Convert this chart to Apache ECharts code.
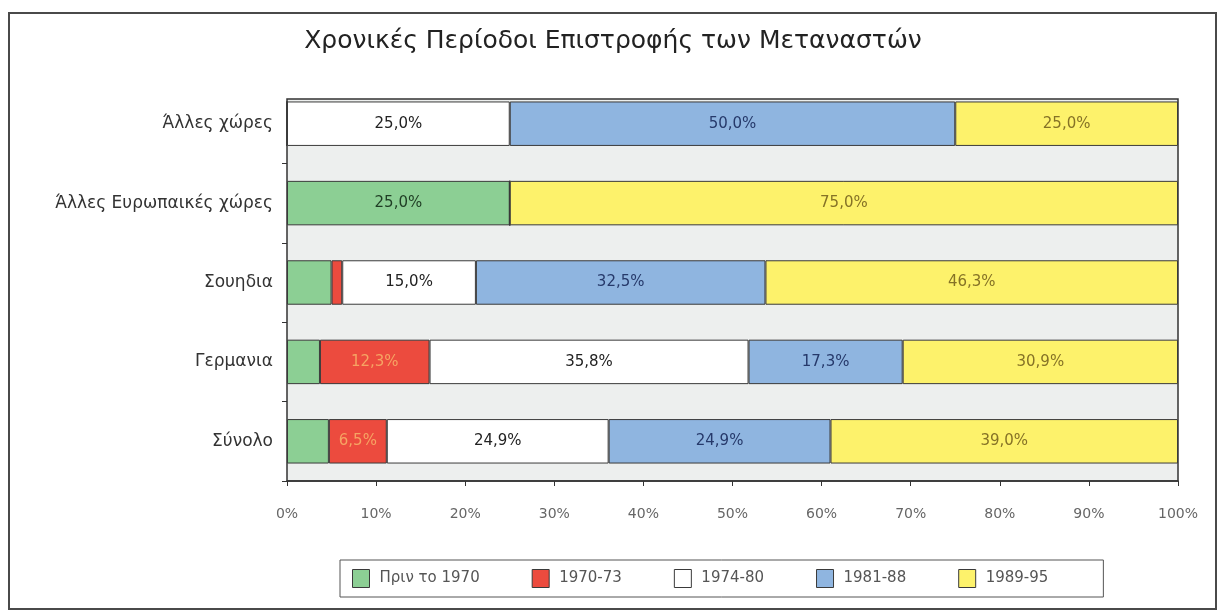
<!DOCTYPE html>
<html>
<head>
<meta charset="utf-8">
<script src="https://cdn.jsdelivr.net/npm/echarts@6/dist/echarts.min.js"></script>
<style>
  html, body { margin: 0; padding: 0; background: #fff; }
  #chart { width: 1226px; height: 612px; }
</style>
</head>
<body>
<div id="chart"></div>
<script>
// categories, top to bottom (yAxis is inverse)
var categories = ['Άλλες χώρες', 'Άλλες Ευρωπαικές χώρες', 'Σουηδια', 'Γερμανια', 'Σύνολο'];
var periods = ['Πριν το 1970', '1970-73', '1974-80', '1981-88', '1989-95'];

var before1970 = [0, 25.0, 5.0, 3.7, 4.7];
var p1970_73 = [0, 0, 1.2, 12.3, 6.5];
var p1974_80 = [25.0, 0, 15.0, 35.8, 24.9];
var p1981_88 = [50.0, 0, 32.5, 17.3, 24.9];
var p1989_95 = [25.0, 75.0, 46.3, 30.9, 39.0];

var xTicks = [0, 10, 20, 30, 40, 50, 60, 70, 80, 90, 100];

var fills = ['#8ccf94', '#ec4b3e', '#ffffff', '#8fb5e0', '#fdf26b'];
var labelColors = ['#1f3d24', '#f6a463', '#222222', '#26396a', '#857226'];

var font = 'DejaVu Sans';

function makeSeries(name, data, i) {
    return {
        name: name,
        type: 'bar',
        stack: 'total',
        barWidth: '56%',
        data: data,
        itemStyle: { color: fills[i], borderColor: '#3a3a3a', borderWidth: 1 },
        label: {
            show: true,
            position: 'inside',
            fontFamily: font,
            fontSize: 15,
            color: labelColors[i],
            formatter: function (p) {
                // small slices have no label in the original
                if (p.value < 6) return '';
                return p.value.toFixed(1).replace('.', ',') + '%';
            }
        },
        emphasis: { disabled: true }
    };
}

var allData = [before1970, p1970_73, p1974_80, p1981_88, p1989_95];
var series = [];
for (var i = 0; i < periods.length; i++) {
    series.push(makeSeries(periods[i], allData[i], i));
}

var myChart = echarts.init(document.getElementById('chart'));
myChart.setOption({
    backgroundColor: '#ffffff',
    animation: false,
    title: {
        text: 'Χρονικές Περίοδοι Επιστροφής των Μεταναστών',
        left: 'center',
        top: 24,
        textStyle: { fontFamily: font, fontSize: 25, fontWeight: 'normal', color: '#222' }
    },
    graphic: [
        {
            type: 'rect', z: -10, silent: true,
            shape: { x: 9, y: 13, width: 1207, height: 596 },
            style: { fill: '#ffffff', stroke: '#4a4a4a', lineWidth: 2 }
        },
        {
            // plot frame
            type: 'rect', z: -5, silent: true,
            shape: { x: 287, y: 99, width: 891, height: 382 },
            style: { fill: '#edefee', stroke: '#333', lineWidth: 1.5 }
        }
    ],
    legend: {
        data: periods,
        left: 340,
        top: 560,
        padding: [9, 55, 9, 12],
        itemGap: 52,
        itemWidth: 17,
        itemHeight: 18,
        icon: 'rect',
        backgroundColor: '#fff',
        borderColor: '#555',
        borderWidth: 1,
        itemStyle: { borderColor: '#3a3a3a', borderWidth: 1 },
        textStyle: { fontFamily: font, fontSize: 15, color: '#555', padding: [0, 0, 0, 5] },
        selectedMode: false
    },
    grid: { left: 287, right: 48, top: 84, bottom: 131 },
    xAxis: {
        type: 'value',
        min: xTicks[0],
        max: xTicks[xTicks.length - 1],
        interval: 10,
        axisLine: { show: true, lineStyle: { color: '#333', width: 1.5 } },
        axisTick: { show: true, length: 5, lineStyle: { color: '#333' } },
        splitLine: { show: false },
        axisLabel: {
            formatter: '{value}%',
            margin: 26,
            fontFamily: font,
            fontSize: 14,
            color: '#666'
        }
    },
    yAxis: {
        type: 'category',
        inverse: true,
        data: categories,
        axisLine: { show: false },
        axisTick: {
            show: true,
            length: 5,
            // no tick above the plot frame
            interval: function (idx) { return idx !== 0; },
            lineStyle: { color: '#333' }
        },
        axisLabel: { margin: 14, fontFamily: font, fontSize: 17, color: '#333' }
    },
    series: series
});
</script>
</body>
</html>
